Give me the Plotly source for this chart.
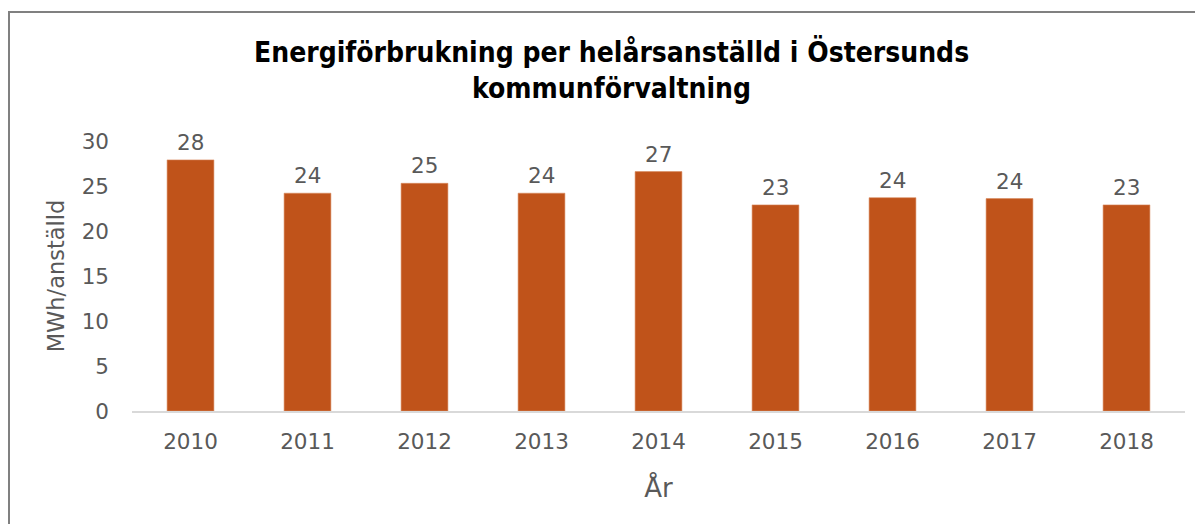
import plotly.graph_objects as go

years = ["2010", "2011", "2012", "2013", "2014", "2015", "2016", "2017", "2018"]
values = [27.9, 24.2, 25.3, 24.2, 26.6, 22.9, 23.7, 23.6, 22.9]
y_ticks = [0, 5, 10, 15, 20, 25, 30]

title_text = "Energiförbrukning per helårsanställd i Östersunds<br>kommunförvaltning"
y_title = "MWh/anställd"
x_title = "År"

bar_color = "#C0531A"
text_color = "#595959"
tick_font = dict(family="DejaVu Sans", size=21.5, color=text_color)

# page has an 8px body margin; figure sits at (8, 8)
OFF = 8
W, H = 1195, 516
px_left, px_right, px_top, px_bottom = 132, 1185, 141, 411  # page pixels of plot area
ml, mr = px_left - OFF, (W + OFF) - px_right
mt, mb = px_top - OFF, (H + OFF) - px_bottom
pw = px_right - px_left
ph = px_bottom - px_top


def pxx(p):
    return (p - px_left) / pw


def pxy(p):
    return (px_bottom - p) / ph


fig = go.Figure()
fig.add_trace(go.Bar(
    x=years, y=values,
    marker=dict(color=bar_color, line=dict(color="#D98A5E", width=0.6)),
    hoverinfo="x+y",
))

# data labels above bars (category index positions)
for i, v in enumerate(values):
    fig.add_annotation(
        x=i, y=v, xref="x", yref="y",
        text=f"{v:.0f}", showarrow=False,
        yanchor="bottom", yshift=3,
        font=dict(family="DejaVu Sans", size=21.5, color=text_color),
    )

fig.update_layout(
    width=W, height=H,
    margin=dict(l=ml, r=mr, t=mt, b=mb),
    paper_bgcolor="white", plot_bgcolor="white",
    bargap=0.6,
    showlegend=False,
    xaxis=dict(
        type="category", range=[-0.5, len(years) - 0.5],
        showline=True, linecolor="#D9D9D9", linewidth=1.5,
        showgrid=False, ticks="", tickfont=tick_font, ticklabelstandoff=10,
        title=dict(text=x_title, font=dict(family="DejaVu Sans", size=26, color=text_color), standoff=26),
    ),
    yaxis=dict(
        range=[0, 30], tickvals=y_ticks, showgrid=False, showline=False,
        zeroline=False, ticks="", tickfont=tick_font, ticklabelstandoff=22,
        title=dict(text=y_title, font=dict(family="DejaVu Sans", size=22.5, color=text_color), standoff=10),
    ),
)

fig.add_annotation(
    text="<b>" + title_text + "</b>",
    xref="paper", yref="paper",
    x=pxx(611), xanchor="center",
    y=pxy(33), yanchor="top",
    showarrow=False, align="center",
    font=dict(family="DejaVu Sans Condensed", size=28, color="black"),
)

# chart border (extends beyond the right and bottom edge)
fig.add_shape(
    type="rect", xref="paper", yref="paper",
    x0=pxx(9), x1=pxx(1240),
    y0=pxy(560), y1=pxy(12),
    line=dict(color="#808080", width=2), fillcolor="rgba(0,0,0,0)",
    layer="above",
)

fig.write_html("out.html")
